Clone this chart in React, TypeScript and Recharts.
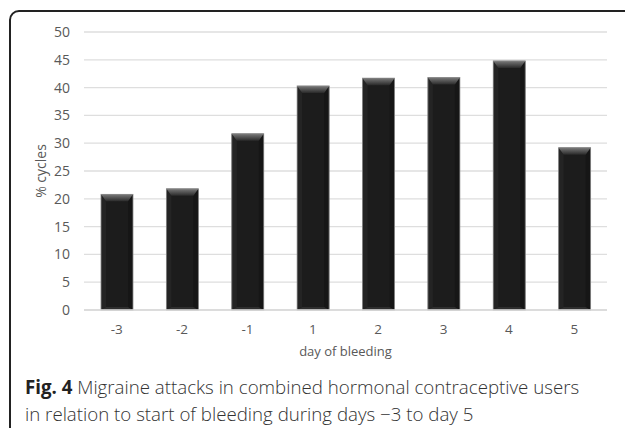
import React from 'react';
import { BarChart, Bar, XAxis, YAxis, CartesianGrid } from 'recharts';

const days = ['-3', '-2', '-1', '1', '2', '3', '4', '5'];
const cycles = [20.8, 21.8, 31.7, 40.3, 41.7, 41.8, 44.8, 29.2];
const yTicks = [0, 5, 10, 15, 20, 25, 30, 35, 40, 45, 50];

const data = days.map((d, i) => ({ day: d, value: cycles[i] }));

const FONT = '"Open Sans", "Noto Sans", sans-serif';

const BevelBar = (props: any) => {
  const { x, y, width, height, index } = props;
  if (!height || height <= 0) return null;
  const b = 5;
  const t = 7;
  const id = `tg${index}`;
  return (
    <g>
      <defs>
        <linearGradient id={id} x1="0" y1="0" x2="0" y2="1">
          <stop offset="0%" stopColor="#7a7a7a" />
          <stop offset="100%" stopColor="#2a2a2a" />
        </linearGradient>
      </defs>
      <rect x={x} y={y} width={width} height={height} fill="#1c1c1c" />
      <polygon points={`${x},${y} ${x + b},${y + t} ${x + b},${y + height - 3} ${x},${y + height}`} fill="#242424" />
      <polygon points={`${x + width},${y} ${x + width - b},${y + t} ${x + width - b},${y + height - 3} ${x + width},${y + height}`} fill="#161616" />
      <polygon points={`${x},${y + height} ${x + b},${y + height - 3} ${x + width - b},${y + height - 3} ${x + width},${y + height}`} fill="#2e2e2e" />
      <polygon points={`${x},${y} ${x + width},${y} ${x + width - b},${y + t} ${x + b},${y + t}`} fill={`url(#${id})`} />
      <rect x={x} y={y} width={width} height={height} fill="none" stroke="#8c8c8c" strokeWidth={0.8} />
    </g>
  );
};

export default function App() {
  return (
    <div style={{ position: 'absolute', left: 0, top: 0, width: 625, height: 428, overflow: 'hidden', background: '#fff' }}>
      <div
        style={{
          position: 'absolute',
          left: 9,
          top: 10,
          width: 640,
          height: 460,
          border: '2px solid #222',
          borderRadius: 10,
          boxSizing: 'border-box',
        }}
      />
      <div style={{ position: 'absolute', left: 0, top: 0 }}>
        <BarChart width={625} height={360} data={data} margin={{ top: 32, right: 18, left: 0, bottom: 0 }}>
          <CartesianGrid vertical={false} stroke="#dedede" strokeWidth={1.3} />
          <XAxis
            dataKey="day"
            height={50}
            tickLine={false}
            axisLine={{ stroke: '#d9d9d9', strokeWidth: 1.3 }}
            tickSize={8}
            tickMargin={6}
            tick={{ fill: '#595959', fontSize: 13.5, fontFamily: FONT }}
            label={{
              content: (p: any) => {
                const vb = p.viewBox;
                return (
                  <text x={vb.x + vb.width / 2} y={vb.y + 46} textAnchor="middle" fill="#595959" fontSize={13} fontFamily={FONT}>
                    day of bleeding
                  </text>
                );
              },
            }}
          />
          <YAxis
            width={84}
            domain={[0, 50]}
            ticks={yTicks}
            interval={0}
            axisLine={false}
            tickLine={false}
            tickSize={8}
            tickMargin={6}
            tick={{ fill: '#595959', fontSize: 14, fontFamily: FONT }}
            label={{
              content: (p: any) => {
                const vb = p.viewBox;
                const cx = 40;
                const cy = vb.y + vb.height / 2;
                return (
                  <text x={cx} y={cy} transform={`rotate(-90, ${cx}, ${cy})`} textAnchor="middle" dominantBaseline="central" fill="#595959" fontSize={14} fontFamily={FONT}>
                    % cycles
                  </text>
                );
              },
            }}
          />
          <Bar dataKey="value" barSize={32} shape={<BevelBar />} isAnimationActive={false} />
        </BarChart>
      </div>
      <div
        style={{
          position: 'absolute',
          left: 25,
          top: 373,
          width: 600,
          fontFamily: FONT,
          fontSize: 18.7,
          fontWeight: 300,
          lineHeight: '27px',
          color: '#333',
          whiteSpace: 'nowrap',
        }}
      >
        <div>
          <b style={{ color: '#222', fontWeight: 700 }}>Fig. 4</b> Migraine attacks in combined hormonal contraceptive users
        </div>
        <div>in relation to start of bleeding during days −3 to day 5</div>
      </div>
    </div>
  );
}
